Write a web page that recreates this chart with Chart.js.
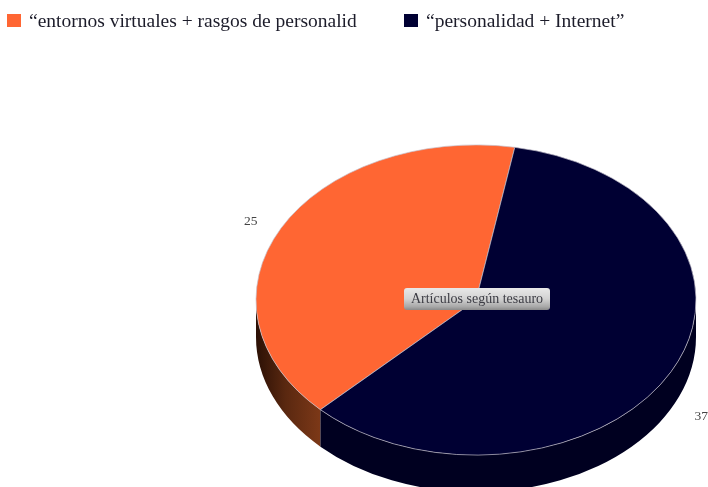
<!DOCTYPE html>
<html>
<head>
<meta charset="utf-8">
<style>
  html, body { margin: 0; padding: 0; background: #fff; }
  #wrap { position: relative; width: 708px; height: 487px; overflow: hidden; filter: blur(0.5px); }
  #chart { position: absolute; left: 0; top: 0; }
  #legend { position: absolute; left: 0; top: 0; font: 19.5px "Liberation Serif", serif; color: #1c1c2a; }
  #legend span { position: absolute; white-space: nowrap; line-height: 20px; }
  #legend i { position: absolute; width: 14px; height: 13px; }
</style>
</head>
<body>
<div id="wrap">
  <canvas id="chart" width="708" height="487"></canvas>
  <div id="legend"></div>
</div>
<script src="https://cdn.jsdelivr.net/npm/chart.js@4"></script>
<script>
const categories = ['\u201centornos virtuales + rasgos de personalid', '\u201cpersonalidad + Internet\u201d'];
const values = [25, 37];
const topColors = ['#ff6633', '#000033'];
const centerTitle = 'Art\u00edculos seg\u00fan tesauro';

const legendX = [7, 404];
const pieX = 476, pieY = 300, squash = 0.705, depth = 37, labelRadius = 254;

// squashes the flat pie and draws the side wall under it
const tiltPlugin = {
  id: 'tilt',
  beforeDatasetsDraw(chart) {
    const ctx = chart.ctx;
    chart.getDatasetMeta(0).data.forEach((arc, i) => {
      const rx = arc.outerRadius, ry = rx * squash;
      [[0, Math.PI], [Math.PI * 2, Math.PI * 3]].forEach(([lo, hi]) => {
        const a = Math.max(arc.startAngle, lo), b = Math.min(arc.endAngle, hi);
        if (a >= b) return;
        const g = ctx.createLinearGradient(pieX - rx, 0, pieX - rx + 66, 0);
        if (i === 0) {
          g.addColorStop(0, '#2b1005');
          g.addColorStop(0.45, '#5a2810');
          g.addColorStop(1, '#7e3918');
        } else {
          g.addColorStop(0, '#000020');
          g.addColorStop(1, '#000020');
        }
        ctx.beginPath();
        ctx.ellipse(pieX, pieY + depth, rx, ry, 0, a, b);
        ctx.ellipse(pieX, pieY, rx, ry, 0, b, a, true);
        ctx.closePath();
        ctx.fillStyle = g;
        ctx.fill();
      });
    });
    ctx.save();
    const first = chart.getDatasetMeta(0).data[0];
    ctx.translate(pieX, pieY);
    ctx.scale(1, squash);
    ctx.translate(-first.x, -first.y);
  },
  afterDatasetsDraw(chart) {
    const ctx = chart.ctx;
    ctx.restore();

    // value labels
    ctx.save();
    ctx.font = '13.5px "Liberation Serif", serif';
    ctx.fillStyle = '#444';
    ctx.textAlign = 'center';
    ctx.textBaseline = 'middle';
    chart.getDatasetMeta(0).data.forEach((arc, i) => {
      const mid = (arc.startAngle + arc.endAngle) / 2;
      const y = pieY + Math.sin(mid) * labelRadius * squash;
      const x = pieX + Math.cos(mid) * labelRadius;
      ctx.fillText(String(values[i]), x, Math.sin(mid) > 0 ? y + depth - 3 : y + 4);
    });

    // centre button
    const bx = 404, by = 288, bw = 146, bh = 22;
    const g = ctx.createLinearGradient(0, by, 0, by + bh);
    g.addColorStop(0, '#e8e8e8');
    g.addColorStop(0.5, '#d2d2d2');
    g.addColorStop(0.85, '#a8a8a8');
    g.addColorStop(1, '#8a8a8a');
    ctx.beginPath();
    ctx.roundRect(bx, by, bw, bh, 3);
    ctx.fillStyle = g;
    ctx.fill();
    ctx.font = '14px "Liberation Serif", serif';
    ctx.fillStyle = '#3c3c44';
    ctx.fillText(centerTitle, bx + bw / 2, by + bh / 2 + 0.5);
    ctx.restore();
  }
};

new Chart(document.getElementById('chart'), {
  type: 'pie',
  data: {
    labels: categories,
    datasets: [{
      data: values,
      backgroundColor: topColors,
      borderColor: '#c4c0cc',
      borderWidth: 0.8,
      clip: false
    }]
  },
  options: {
    responsive: false,
    animation: false,
    radius: 220,
    rotation: 225,
    plugins: {
      legend: { display: false },
      tooltip: { enabled: false }
    }
  },
  plugins: [tiltPlugin]
});

// legend built from the same arrays
const legendEl = document.getElementById('legend');
categories.forEach((name, i) => {
  const box = document.createElement('i');
  box.style.left = legendX[i] + 'px';
  box.style.top = '14px';
  box.style.background = topColors[i];
  const txt = document.createElement('span');
  txt.style.left = (legendX[i] + 22) + 'px';
  txt.style.top = '11px';
  txt.textContent = name;
  legendEl.appendChild(box);
  legendEl.appendChild(txt);
});
</script>
</body>
</html>
